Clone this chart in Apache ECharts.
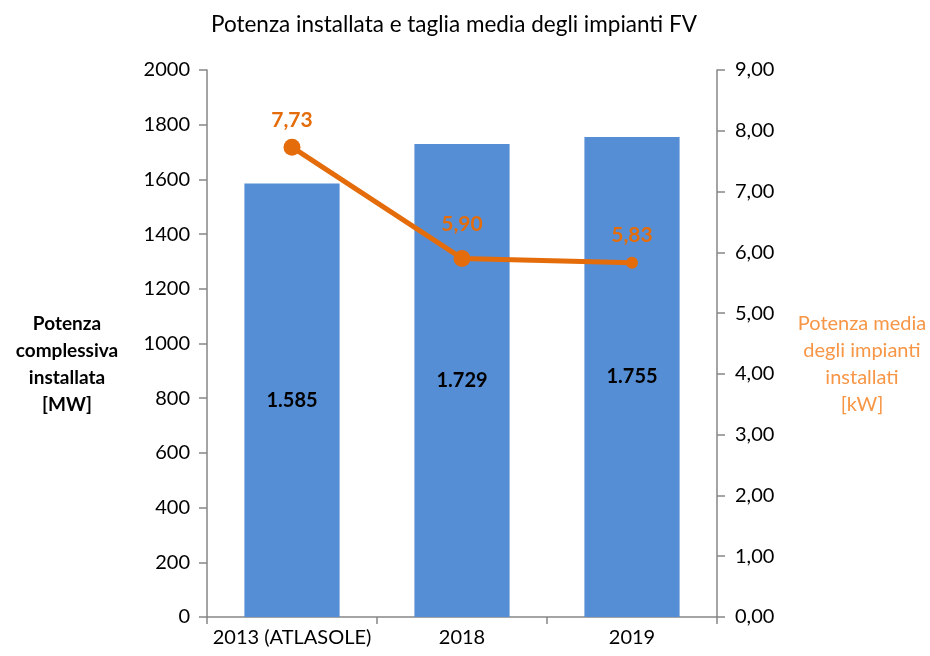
<!DOCTYPE html>
<html>
<head>
<meta charset="utf-8">
<script src="https://cdn.jsdelivr.net/npm/echarts@6/dist/echarts.min.js"></script>
<style>
  html, body { margin: 0; padding: 0; background: #fff; }
  #chart { width: 930px; height: 656px; }
</style>
</head>
<body>
<div id="chart"></div>
<script>
/* dati */
var categorie = ['2013 (ATLASOLE)', '2018', '2019'];
var potenzaMW = [1585, 1729, 1755];
var tagliaMediaKW = [7.73, 5.90, 5.83];

/* stile dei punti della linea */
var markerSizes = [17, 17, 12];
var labelGaps = [8, 15, 11];

var FONT = 'Lato, "Liberation Sans", sans-serif';
var ORANGE = '#E46C0A';
var AXIS = '#868686';

function itNum(v, dec) {
    return v.toFixed(dec).replace('.', ',');
}
function itThousands(v) {
    return String(v).replace(/\B(?=(\d{3})+(?!\d))/g, '.');
}

var chart = echarts.init(document.getElementById('chart'));
chart.setOption({
    animation: false,
    title: {
        text: 'Potenza installata e taglia media degli impianti FV',
        left: 206,
        top: 8,
        textStyle: { fontFamily: FONT, fontSize: 22.5, fontWeight: 'normal', color: '#000' }
    },
    grid: { left: 207, right: 213, top: 70, bottom: 39 },
    xAxis: {
        type: 'category',
        data: categorie,
        axisLine: { lineStyle: { color: AXIS, width: 1.5 } },
        axisTick: { show: true, length: 7, lineStyle: { color: AXIS, width: 1.5 } },
        axisLabel: { interval: 0, margin: 11, fontFamily: FONT, fontSize: 20, color: '#000' }
    },
    yAxis: [
        {
            type: 'value',
            min: 0, max: 2000, interval: 200,
            position: 'left',
            splitLine: { show: false },
            axisLine: { show: true, lineStyle: { color: AXIS, width: 1.5 } },
            axisTick: { show: true, length: 8, lineStyle: { color: AXIS, width: 1.5 } },
            axisLabel: {
                margin: 17, fontFamily: FONT, fontSize: 20, color: '#000',
                formatter: function (v) { return String(v); }
            }
        },
        {
            type: 'value',
            min: 0, max: 9, interval: 1,
            position: 'right',
            splitLine: { show: false },
            axisLine: { show: true, lineStyle: { color: AXIS, width: 1.5 } },
            axisTick: { show: true, length: 8, lineStyle: { color: AXIS, width: 1.5 } },
            axisLabel: {
                margin: 18, fontFamily: FONT, fontSize: 20, color: '#000',
                formatter: function (v) { return itNum(v, 2); }
            }
        }
    ],
    graphic: [
        {
            type: 'text', x: 67, y: 310,
            style: {
                text: 'Potenza\ncomplessiva\ninstallata\n[MW]',
                align: 'center', lineHeight: 27,
                font: 'bold 19px ' + FONT, fill: '#000'
            }
        },
        {
            type: 'text', x: 862, y: 310,
            style: {
                text: 'Potenza media\ndegli impianti\ninstallati\n[kW]',
                align: 'center', lineHeight: 27,
                font: '20px ' + FONT, fill: '#F79646'
            }
        }
    ],
    series: [
        {
            type: 'bar',
            yAxisIndex: 0,
            data: potenzaMW,
            barWidth: '56%',
            itemStyle: { color: '#558ED5' },
            label: {
                show: true, position: 'inside',
                fontFamily: FONT, fontSize: 20, fontWeight: 'bold', color: '#000',
                formatter: function (p) { return itThousands(p.value); }
            }
        },
        {
            type: 'line',
            yAxisIndex: 1,
            data: tagliaMediaKW.map(function (v, i) {
                return { value: v, symbolSize: markerSizes[i], label: { distance: labelGaps[i] } };
            }),
            symbol: 'circle',
            lineStyle: { color: ORANGE, width: 5 },
            itemStyle: { color: ORANGE },
            label: {
                show: true, position: 'top',
                fontFamily: FONT, fontSize: 21, fontWeight: 'bold', color: ORANGE,
                formatter: function (p) { return itNum(p.value, 2); }
            }
        }
    ]
});
</script>
</body>
</html>
